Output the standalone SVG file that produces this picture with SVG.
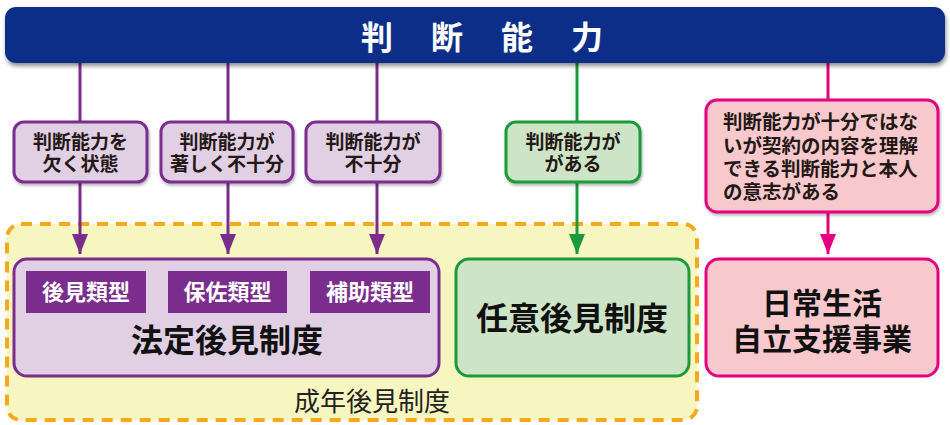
<svg xmlns="http://www.w3.org/2000/svg" width="950" height="425" viewBox="0 0 950 425">
<style>
text{font-family:"Noto Sans CJK JP","Noto Sans",sans-serif;}
.lbl{font-size:19px;font-weight:700;fill:#231815;text-anchor:middle;}
.lbs{font-size:19.5px;font-weight:700;fill:#231815;text-anchor:start;}
.big{font-size:32px;font-weight:700;fill:#111;text-anchor:middle;}
.big2{font-size:30px;font-weight:700;fill:#111;text-anchor:middle;}
.typ{font-size:22px;font-weight:700;fill:#fff;text-anchor:middle;}
.pur{stroke:#7b2d8e;}
.grn{stroke:#1a9a3c;}
.pnk{stroke:#e4007f;}
.ln{stroke-width:3;fill:none;}
</style>
<defs>
<filter id="sh" x="-5%" y="-20%" width="110%" height="150%">
<feDropShadow dx="1" dy="3" stdDeviation="2" flood-color="#000" flood-opacity="0.45"/>
</filter>
<filter id="sh2" x="-10%" y="-10%" width="120%" height="130%">
<feDropShadow dx="1" dy="2" stdDeviation="1.5" flood-color="#000" flood-opacity="0.3"/>
</filter>
<marker id="ap" markerWidth="20" markerHeight="16" refX="20" refY="8" orient="auto" markerUnits="userSpaceOnUse"><path d="M0,0 L20,8 L0,16 Z" fill="#7b2d8e"/></marker>
<marker id="ag" markerWidth="20" markerHeight="16" refX="20" refY="8" orient="auto" markerUnits="userSpaceOnUse"><path d="M0,0 L20,8 L0,16 Z" fill="#1a9a3c"/></marker>
<marker id="ak" markerWidth="20" markerHeight="16" refX="20" refY="8" orient="auto" markerUnits="userSpaceOnUse"><path d="M0,0 L20,8 L0,16 Z" fill="#e4007f"/></marker>
</defs>
<rect width="950" height="425" fill="#fff"/>

<g id="seinen">
<rect x="7" y="224" width="690" height="196" rx="14" fill="#f8f6c0" stroke="#f5a91f" stroke-width="4" stroke-dasharray="11,8"/>
<text x="372" y="411" font-size="26" fill="#222" text-anchor="middle">成年後見制度</text>
</g>

<g id="connectors">
<line class="ln pur" x1="80" y1="60" x2="80" y2="122"/>
<line class="ln pur" x1="228" y1="60" x2="228" y2="122"/>
<line class="ln pur" x1="377" y1="60" x2="377" y2="122"/>
<line class="ln grn" x1="577" y1="60" x2="577" y2="122"/>
<line class="ln pnk" x1="828" y1="60" x2="828" y2="100"/>
<line class="ln pur" x1="80" y1="182" x2="80" y2="254" marker-end="url(#ap)"/>
<line class="ln pur" x1="228" y1="182" x2="228" y2="254" marker-end="url(#ap)"/>
<line class="ln pur" x1="377" y1="182" x2="377" y2="254" marker-end="url(#ap)"/>
<line class="ln grn" x1="577" y1="182" x2="577" y2="254" marker-end="url(#ag)"/>
<line class="ln pnk" x1="828" y1="212" x2="828" y2="254" marker-end="url(#ak)"/>
</g>

<g id="handan">
<rect x="5" y="7" width="940" height="56" rx="11" fill="#0c2d88" filter="url(#sh)"/>
<text x="501" y="49" font-size="32" font-weight="700" fill="#fff" text-anchor="middle" letter-spacing="38">判断能力</text>
</g>

<g id="q1">
<rect x="14" y="122" width="133" height="60" rx="10" fill="#e1cfe4" stroke="#7b2d8e" stroke-width="3" filter="url(#sh2)"/>
<text class="lbl" x="80.5" y="149">判断能力を</text>
<text class="lbl" x="80.5" y="171">欠く状態</text>
</g>
<g id="q2">
<rect x="161" y="122" width="132" height="60" rx="10" fill="#e1cfe4" stroke="#7b2d8e" stroke-width="3" filter="url(#sh2)"/>
<text class="lbl" x="227" y="149">判断能力が</text>
<text class="lbl" x="227" y="171">著しく不十分</text>
</g>
<g id="q3">
<rect x="306" y="122" width="134" height="60" rx="10" fill="#e1cfe4" stroke="#7b2d8e" stroke-width="3" filter="url(#sh2)"/>
<text class="lbl" x="373" y="149">判断能力が</text>
<text class="lbl" x="373" y="171">不十分</text>
</g>
<g id="q4">
<rect x="506" y="122" width="134" height="60" rx="10" fill="#cde5c6" stroke="#1a9a3c" stroke-width="3" filter="url(#sh2)"/>
<text class="lbl" x="573" y="149">判断能力が</text>
<text class="lbl" x="573" y="171">がある</text>
</g>
<g id="q5">
<rect x="706" y="100" width="232" height="112" rx="11" fill="#f8c9cc" stroke="#e4007f" stroke-width="3" filter="url(#sh2)"/>
<text class="lbs" x="723" y="129">判断能力が十分ではな</text>
<text class="lbs" x="723" y="153">いが契約の内容を理解</text>
<text class="lbs" x="723" y="176">できる判断能力と本人</text>
<text class="lbs" x="723" y="199">の意志がある</text>
</g>

<g id="hotei">
<rect x="14" y="259" width="425" height="117" rx="13" fill="#e1cfe4" stroke="#7b2d8e" stroke-width="3"/>
<rect x="26" y="271" width="120" height="42" fill="#7b2d8e"/>
<rect x="168" y="271" width="119" height="42" fill="#7b2d8e"/>
<rect x="310" y="271" width="120" height="42" fill="#7b2d8e"/>
<text class="typ" x="86" y="300">後見類型</text>
<text class="typ" x="227.5" y="300">保佐類型</text>
<text class="typ" x="370" y="300">補助類型</text>
<text class="big" x="227" y="352">法定後見制度</text>
</g>

<g id="nini">
<rect x="456" y="259" width="233" height="117" rx="13" fill="#cde5c6" stroke="#1a9a3c" stroke-width="3"/>
<text class="big" x="572" y="330">任意後見制度</text>
</g>

<g id="nichijo">
<rect x="706" y="259" width="232" height="117" rx="13" fill="#f8c9cc" stroke="#e4007f" stroke-width="3"/>
<text class="big2" x="822" y="314">日常生活</text>
<text class="big2" x="822" y="350">自立支援事業</text>
</g>
</svg>
